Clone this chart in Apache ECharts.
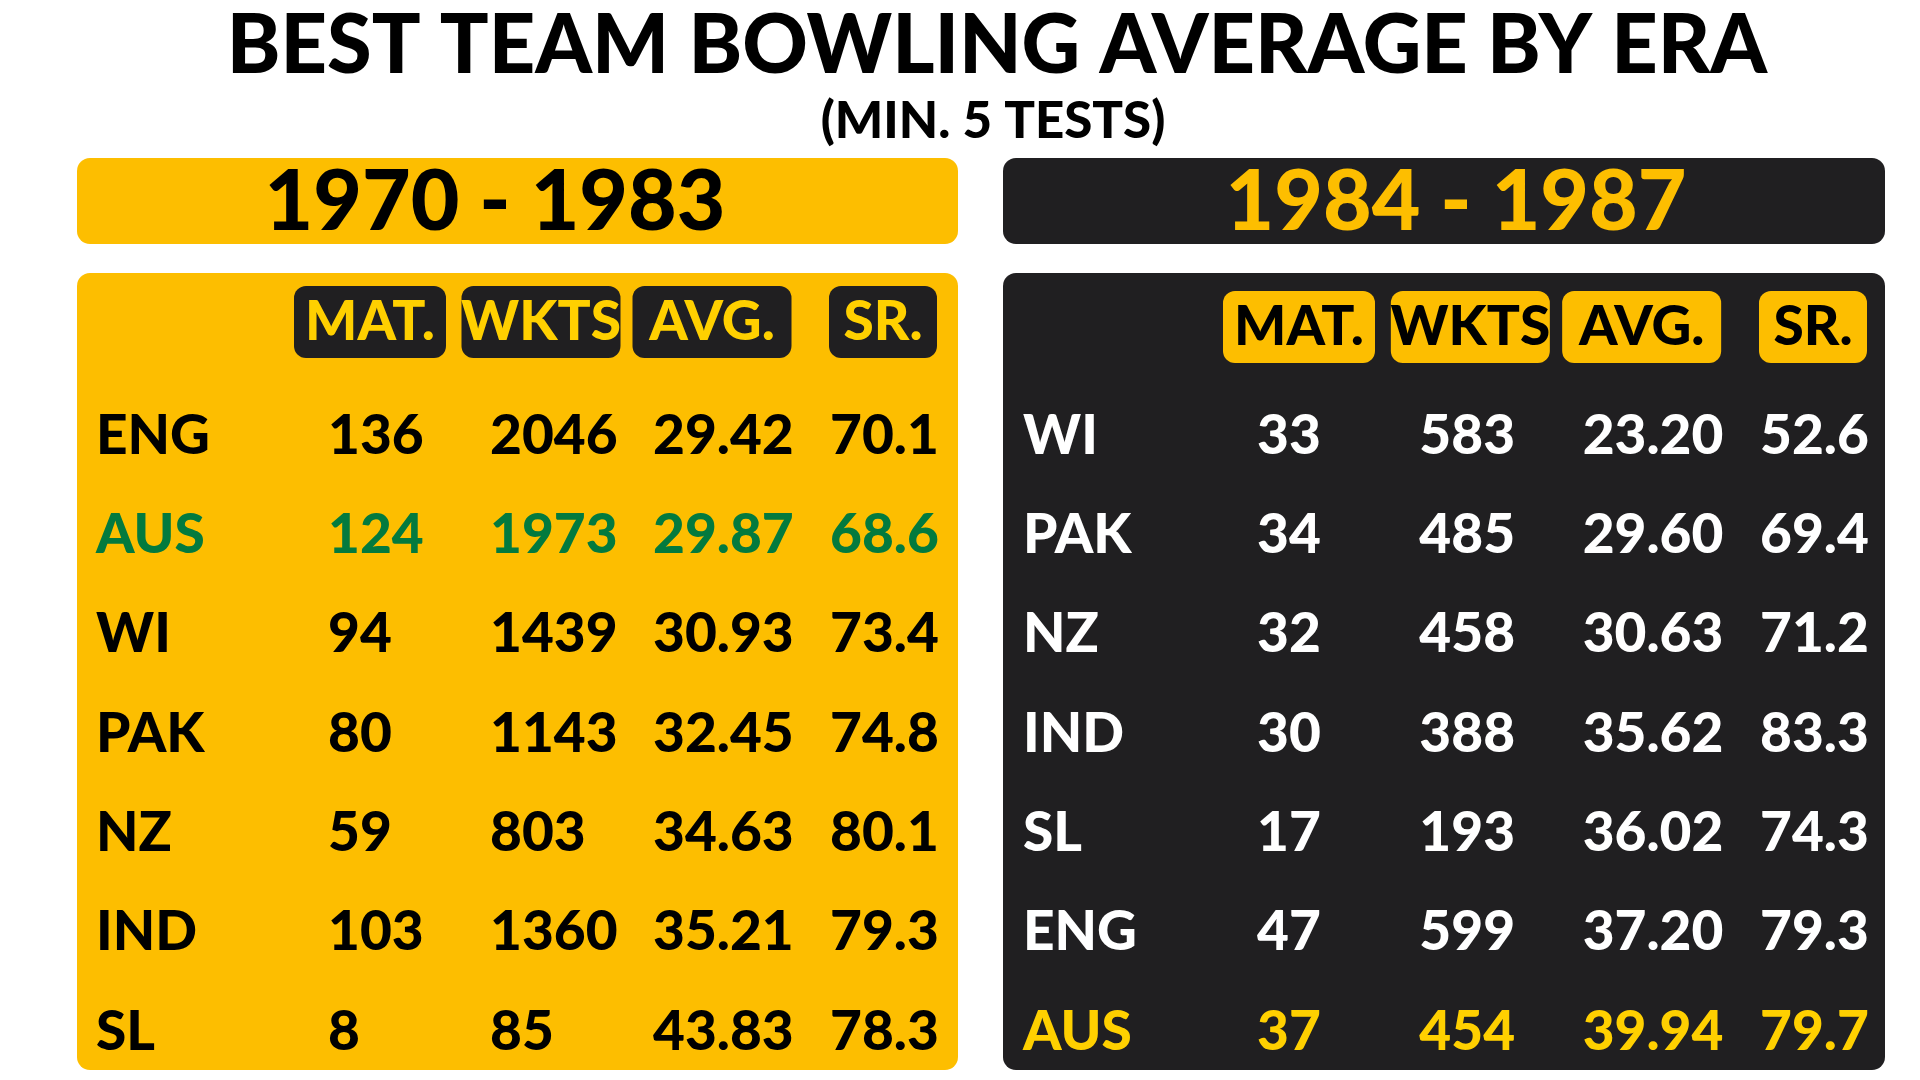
<!DOCTYPE html>
<html>
<head>
<meta charset="utf-8">
<title>Best team bowling average by era</title>
<script src="https://cdn.jsdelivr.net/npm/echarts@6/dist/echarts.min.js"></script>
<style>
  html, body { margin: 0; padding: 0; background: #fff; }
  #main { width: 1920px; height: 1080px; }
</style>
</head>
<body>
<div id="main"></div>
<script>
    'use strict';

    // ---- data ----
    var columns = ['MAT.', 'WKTS', 'AVG.', 'SR.'];
    var eras = ['1970 - 1983', '1984 - 1987'];

    var teamsA = ['ENG', 'AUS', 'WI', 'PAK', 'NZ', 'IND', 'SL'];
    var matA = [136, 124, 94, 80, 59, 103, 8];
    var wktsA = [2046, 1973, 1439, 1143, 803, 1360, 85];
    var avgA = [29.42, 29.87, 30.93, 32.45, 34.63, 35.21, 43.83];
    var srA = [70.1, 68.6, 73.4, 74.8, 80.1, 79.3, 78.3];

    var teamsB = ['WI', 'PAK', 'NZ', 'IND', 'SL', 'ENG', 'AUS'];
    var matB = [33, 34, 32, 30, 17, 47, 37];
    var wktsB = [583, 485, 458, 388, 193, 599, 454];
    var avgB = [23.20, 29.60, 30.63, 35.62, 36.02, 37.20, 39.94];
    var srB = [52.6, 69.4, 71.2, 83.3, 74.3, 79.3, 79.7];

    // ---- styles ----
    var YELLOW = '#FDBE00';
    var DARK = '#201F21';
    var PILL_YELLOW = '#FFD000';
    var GREEN = '#037A3E';
    var FONT = 'Lato';
    var pillWidths = [152, 159, 159, 108];
    var colOffsets = [-42, -51, -59, -53];   // numbers are left aligned under the pills

    var container = document.getElementById('main');
    var chart = echarts.init(container, null, {renderer: 'canvas'});

    // table cells -> [col, row], text kept separately so 23.20 stays 23.20
    function cells(mat, wkts, avg, sr) {
        var pts = [], txt = [];
        for (var i = 0; i < mat.length; i++) {
            pts.push([0, i], [1, i], [2, i], [3, i]);
            txt.push(String(mat[i]), String(wkts[i]), avg[i].toFixed(2), sr[i].toFixed(1));
        }
        return {pts: pts, txt: txt};
    }

    var cellsA = cells(matA, wktsA, avgA, srA);
    var cellsB = cells(matB, wktsB, avgB, srB);

    function textRenderer(texts, baseColor, hiRow, hiColor) {
        return function (params, api) {
            var col = api.value(0);
            var row = api.value(1);
            var p = api.coord([col, row]);
            return {
                type: 'text',
                x: p[0] + colOffsets[col],
                y: p[1],
                style: {
                    text: texts[params.dataIndex],
                    fill: row === hiRow ? hiColor : baseColor,
                    fontSize: 55,
                    fontWeight: 900,
                    fontFamily: FONT,
                    align: 'left',
                    verticalAlign: 'middle'
                }
            };
        };
    }

    function pillRich(bg, fg) {
        var rich = {};
        pillWidths.forEach(function (w, i) {
            rich['c' + i] = {
                width: w,
                height: 72,
                lineHeight: 72,
                align: 'center',
                backgroundColor: bg,
                borderRadius: 12,
                color: fg,
                fontSize: 55,
                fontWeight: 900,
                fontFamily: FONT
            };
        });
        return rich;
    }

    function xAxisFor(gridIndex, bg, fg, margin) {
        return {
            type: 'category',
            gridIndex: gridIndex,
            position: 'top',
            boundaryGap: false,
            data: columns,
            axisLine: {show: false},
            axisTick: {show: false},
            splitLine: {show: false},
            axisLabel: {
                margin: margin,
                interval: 0,
                formatter: function (value, idx) { return '{c' + idx + '|' + value + '}'; },
                rich: pillRich(bg, fg)
            }
        };
    }

    function yAxisFor(gridIndex, teams, baseColor, hiTeam, hiColor, margin) {
        return {
            type: 'category',
            gridIndex: gridIndex,
            inverse: true,
            boundaryGap: false,
            data: teams,
            axisLine: {show: false},
            axisTick: {show: false},
            splitLine: {show: false},
            axisLabel: {
                margin: margin,
                interval: 0,
                align: 'left',
                fontSize: 55,
                fontWeight: 900,
                fontFamily: FONT,
                color: function (value) { return value === hiTeam ? hiColor : baseColor; }
            }
        };
    }

    var option = {
        backgroundColor: '#ffffff',
        animation: false,
        graphic: [
            // era header boxes
            {type: 'rect', shape: {x: 77, y: 158, width: 881, height: 86, r: 13}, style: {fill: YELLOW}, z: -1},
            {type: 'rect', shape: {x: 1003, y: 158, width: 882, height: 86, r: 13}, style: {fill: DARK}, z: -1},
            // table panels
            {type: 'rect', shape: {x: 77, y: 273, width: 881, height: 797, r: 13}, style: {fill: YELLOW}, z: -1},
            {type: 'rect', shape: {x: 1003, y: 273, width: 882, height: 797, r: 13}, style: {fill: DARK}, z: -1},
            {
                type: 'text', x: 997, y: 47,
                style: {text: 'BEST TEAM BOWLING AVERAGE BY ERA', fill: '#000', fontSize: 81, fontWeight: 900,
                    fontFamily: FONT, align: 'center', verticalAlign: 'middle'}
            },
            {
                type: 'text', x: 993, y: 122,
                style: {text: '(MIN. 5 TESTS)', fill: '#000', fontSize: 51, fontWeight: 900,
                    fontFamily: FONT, align: 'center', verticalAlign: 'middle'}
            },
            {
                type: 'text', x: 495, y: 203,
                style: {text: eras[0], fill: '#000', fontSize: 84, fontWeight: 900,
                    fontFamily: FONT, align: 'center', verticalAlign: 'middle'}
            },
            {
                type: 'text', x: 1456, y: 203,
                style: {text: eras[1], fill: YELLOW, fontSize: 84, fontWeight: 900,
                    fontFamily: FONT, align: 'center', verticalAlign: 'middle'}
            }
        ],
        grid: [
            {left: 370, top: 436, width: 513, height: 596},
            {left: 1299, top: 436, width: 514, height: 596}
        ],
        xAxis: [
            xAxisFor(0, DARK, PILL_YELLOW, 78),
            xAxisFor(1, YELLOW, '#000', 73)
        ],
        yAxis: [
            yAxisFor(0, teamsA, '#000', 'AUS', GREEN, 274),
            yAxisFor(1, teamsB, '#fff', 'AUS', PILL_YELLOW, 276)
        ],
        series: [
            {
                type: 'custom',
                xAxisIndex: 0,
                yAxisIndex: 0,
                encode: {x: 0, y: 1},
                data: cellsA.pts,
                renderItem: textRenderer(cellsA.txt, '#000', teamsA.indexOf('AUS'), GREEN)
            },
            {
                type: 'custom',
                xAxisIndex: 1,
                yAxisIndex: 1,
                encode: {x: 0, y: 1},
                data: cellsB.pts,
                renderItem: textRenderer(cellsB.txt, '#fff', teamsB.indexOf('AUS'), PILL_YELLOW)
            }
        ]
    };

    chart.setOption(option);
</script>
</body>
</html>
